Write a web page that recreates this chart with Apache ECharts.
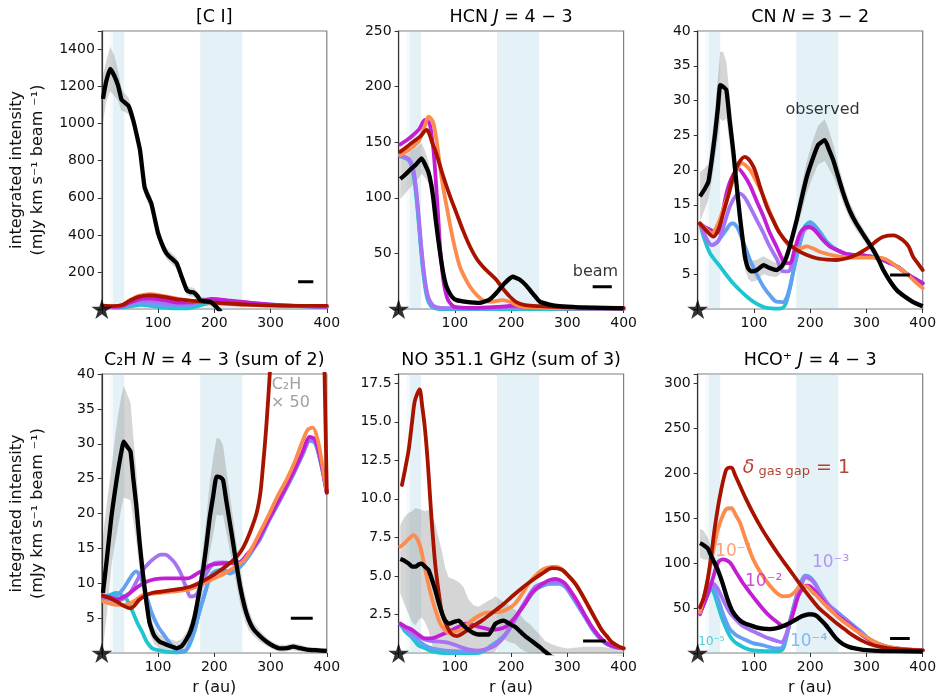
<!DOCTYPE html>
<html><head><meta charset="utf-8">
<script src="https://cdn.jsdelivr.net/npm/echarts@6/dist/echarts.min.js"></script>
<style>html,body{margin:0;padding:0;background:#fff}#c{width:945px;height:700px}</style>
</head><body><div id="c"></div>
<script>
// ---------------- DATA ----------------
const xTickLabels = [100, 200, 300, 400];
const gapBands = [[14, 20, 0.12], [20, 40, 0.33], [175, 250, 0.33]];

// [C I]
const ciYTicks = [200, 400, 600, 800, 1000, 1200, 1400];
const ciObs = [[2,1134],[8,1230],[15,1295],[22,1260],[29,1205],[35,1130],[40,1116],[48,1093],[56,1017],[62,940],[68,856],[76,658],[82,610],[88,570],[94,490],[100,409],[109,335],[115,300],[121,281],[133,247],[142,174],[151,102],[157,92],[163,90],[170,70],[175,48],[185,42],[193,39],[200,22],[206,3],[212,-15]];
const ciObsErr = [130,110,120,110,80,60,50,45,40,40,40,40,40,35,35,35,30,30,30,30,30,25,25,25,25,20,20,20,20,20,20];
const ciM0 = [[2,18],[20,15],[35,20],[50,45],[65,65],[85,73],[110,65],[140,50],[175,40],[220,30],[270,22],[320,18],[400,17]];
const ciM1 = [[2,16],[20,14],[35,20],[50,48],[65,70],[85,80],[110,70],[140,52],[175,38],[220,28],[270,21],[320,17],[400,15]];
const ciM2 = [[2,15],[20,12],[35,15],[50,35],[70,55],[85,58],[110,48],[140,35],[170,38],[195,55],[230,45],[270,32],[320,20],[400,13]];
const ciM3 = [[2,15],[20,11],[35,13],[50,30],[70,45],[90,42],[120,28],[150,25],[175,40],[195,50],[230,42],[270,30],[320,20],[400,13]];
const ciM4 = [[2,15],[20,10],[35,12],[50,25],[70,35],[90,25],[120,15],[150,15],[175,35],[195,48],[230,40],[270,30],[320,20],[400,13]];
const ciM5 = [[2,15],[20,8],[35,8],[50,14],[70,22],[90,15],[120,5],[150,3],[175,20],[195,35],[230,35],[270,28],[320,19],[400,12]];
const ciBeam = [[349,147],[376,147]];

// HCN J=4-3
const hcnYTicks = [50, 100, 150, 200, 250];
const hcnObs = [[3,117],[12,121],[22,126],[31,130],[41,135.5],[47,130],[53,123],[58,112],[62,98],[66,80],[70.6,62],[75,46],[79.5,32],[84,22],[88,17],[95,11],[103,8],[120,6.5],[144,5.5],[160,8],[173,14],[188,23],[203,29],[215,26.5],[227,21],[240,13],[251,6.6],[268,4],[286,2.5],[320,1.5],[360,1],[400,0.5]];
const hcnObsErr = [18,17,16,15,14,12,10,9,8,7,6,5,4,3,3,2,2,2,2,2,2,2,2,2,2,2,2,1.5,1.5,1,1,1];
const hcnM0 = [[3,141.5],[15,146],[26,150.5],[38,155],[50,161],[55,157],[59,150.5],[67,140],[79.5,119],[91,102],[103,86],[115,70],[127,56],[139,45],[150,38],[162,32],[174,26],[186,18],[198,11],[210,6],[225,3.5],[250,2.5],[300,1.5],[400,1]];
const hcnM1 = [[3,138.5],[15,142],[26,146],[37,152],[47,165],[53,173],[58,171],[62,167],[68,150],[73.6,128],[79,110],[85.5,92],[91,77],[97,62],[103,49],[109,38],[118,28],[127,20],[138,13],[150,8],[165,6.5],[185,8],[200,6],[215,2.5],[250,1],[400,0.5]];
const hcnM2 = [[3,148],[15,152],[26,156.5],[37,162],[47,170],[52,169],[56,165],[59,155],[62,143],[65,124],[68,101],[71,78],[73.6,56],[76.5,40],[79.5,26],[84,14],[88,8],[94,4],[100,2],[130,1],[180,2],[205,3],[230,1.5],[280,0.8],[400,0.5]];
const hcnM3 = [[3,138],[10,137],[18,135],[24,130],[28,120],[32,104],[36,82],[40,58],[44,38],[48,22],[52,12],[57,6],[63,2.5],[75,1],[150,0.5],[200,2],[240,1],[400,0.3]];
const hcnM4 = [[3,137],[10,136],[18,134],[24,128],[28,118],[32,101],[36,79],[40,55],[44,35],[48,20],[52,10],[57,4],[63,1.5],[75,0.5],[170,0.5],[200,2.5],[240,1],[400,0.2]];
const hcnM5 = [[3,139],[10,137],[18,134],[24,127],[28,116],[32,98],[36,76],[40,52],[44,32],[48,17],[52,8],[57,3],[63,1],[75,0],[400,0]];
const hcnBeam = [[345,20],[379,20]];

// CN N=3-2
const cnYTicks = [5, 10, 15, 20, 25, 30, 35, 40];
const cnObs = [[4,16.2],[12,17.2],[19,18.3],[25,21.5],[31,25.3],[36,29],[40,32.2],[45,32],[51,31.5],[57,27],[63,22.9],[69,18],[75,13.3],[80,10],[84,7.5],[90,5.8],[96,5.4],[105,5.6],[117,6.3],[128,5.9],[140,5.6],[150,6.2],[158,7.5],[167,10],[176,12.8],[185,16],[194,19],[204,21.5],[214,23.6],[226,24.3],[233,23],[241,21.4],[250,19],[259,16.6],[270,14.2],[282,12.3],[297,10.4],[312,8.5],[322,7],[330,5.6],[342,4],[354,2.7],[368,1.8],[383,1],[400,0.4]];
const cnObsErr = [3.5,3,2.5,3,3.5,4.5,4.8,5,4,3.5,3,2.5,2,2,1.8,1.5,1.5,1.5,1.3,1.2,1,1,1,1.2,1.5,2,2.3,2.6,2.8,3,2.8,2.3,1.8,1.5,1.2,1,0.8,0.8,0.7,0.6,0.5,0.5,0.4,0.4,0.3];
const cnM0 = [[4,12.3],[15,11.3],[28,10.4],[37,11.5],[45.5,13.8],[55,16.5],[63,19],[73,21],[84,21.9],[99,20.5],[110,17.8],[123,14.7],[135,12.6],[146,10.9],[160,9.5],[176,8.5],[193,7.8],[211.5,7.3],[230,7.1],[247,7.05],[265,7.3],[282,7.8],[295,8.4],[306,9],[318,9.8],[330,10.4],[348,10.6],[365,9.9],[375,9],[383,7.5],[392,6.5],[400,5.6]];
const cnM1 = [[4,12.3],[15,11.5],[25,10.9],[37,12.4],[47,14.8],[57,17.1],[67,19.5],[78,21],[93,20],[105,18.2],[117,16.2],[128,14],[140,11.8],[152,10.2],[164,9],[180,8.7],[194,9],[205,8.7],[218,8.2],[247,7.6],[270,7.4],[294,7.4],[324,7.4],[340,6.9],[354,6.1],[370,5.2],[383,4.2],[400,3]];
const cnM2 = [[4,12.3],[12,11.8],[22,11.4],[34,10.9],[42,13],[51,16.6],[60,18.8],[72,20.2],[82,19.3],[93,17.8],[105,15.5],[117,13.3],[128,11],[140,9],[150,7.2],[155,6.6],[164,6.6],[172,8.5],[182,10.9],[190,11.7],[197,11.8],[204,11.6],[211,11.1],[222,10],[235,9],[250,8.4],[265,7.9],[294,7.7],[320,7.3],[342,6.6],[357,6],[371,5.1],[385,4.4],[400,3.7]];
const cnM3 = [[4,12.3],[15,10.2],[25,9.2],[37,9.8],[47,12.2],[57,14.7],[67,16.2],[75,16.6],[84,16],[93,14.7],[105,12.8],[117,10.9],[128,9],[140,7.3],[152,5.4],[161,5.4],[170,7.5],[179,9.9],[190,11.4],[200,11.8],[211,11.1],[222,10],[235,9],[250,8.4],[265,7.9],[294,7.7],[320,7.3],[342,6.6],[357,6],[371,5.1],[385,4.4],[400,3.7]];
const cnM4 = [[4,12.3],[15,10.2],[25,9.2],[33,9.5],[40,10.2],[50,11.3],[58,12.2],[63,12.3],[70,11.8],[75,10.9],[84,9],[93,7.05],[105,5],[117,3.2],[128,2],[140,1.05],[152,1],[158,1.6],[164,3.2],[172,6.2],[182,9.5],[190,11.5],[200,12.3],[208,11.9],[218,10.9],[230,9.6],[247,8.5],[265,7.9],[294,7.7],[320,7.3],[342,6.6],[357,6],[371,5.1],[385,4.4],[400,3.7]];
const cnM5 = [[4,12.3],[12,10],[22,8],[30,7.1],[40,6.1],[50,5],[63,3.7],[75,2.7],[87,1.8],[100,1],[117,0.3],[130,0.1],[146,0.05],[155,0.5],[164,3],[172,6.2],[182,9.7],[190,11.8],[200,12.5],[208,12],[218,11],[230,9.6],[247,8.5],[265,7.9],[294,7.7],[320,7.3],[342,6.6],[357,6],[371,5.1],[385,4.4],[400,3.7]];
const cnBeam = [[342,4.9],[377,4.9]];

// C2H N=4-3
const c2hYTicks = [5, 10, 15, 20, 25, 30, 35, 40];
const c2hObs = [[2,8.6],[9,13.5],[17,19.5],[23,23],[29,26.2],[34,28.5],[39,30.3],[45,29.6],[51,28.9],[56,25],[61.5,21],[67,16],[73,11.4],[79,7.5],[85,4.3],[93,2.5],[103,1.6],[115,1.2],[125,0.9],[133,0.67],[142,1],[150,1.9],[158,3.2],[165,5.2],[172,8.2],[180,11.9],[186,15.5],[192,19.5],[198,22.5],[204,25.3],[210,25.2],[215.5,24.8],[221,22],[227,19],[233,16],[239,12.9],[246,9.5],[254,6.6],[261,4.8],[269,3.5],[280,2.5],[293,1.6],[305,1],[316,0.67],[328,0.7],[340,0.9],[352,0.7],[364,0.5],[380,0.4],[400,0.3]];
const c2hObsErr = [8,8,7,7.5,8,8,8,7.5,7,6,5,4,3,2,1.5,1.2,1,1,1,1,1,1,1.2,1.5,2,3,4,5,5.5,5.5,5.5,5,4.5,4,3.5,3,2.5,2,1.5,1,0.8,0.6,0.5,0.5,0.5,0.5,0.5,0.4,0.4,0.3];
const c2hM0 = [[2,8.2],[14,7.9],[26,7.4],[38,6.8],[50,6.4],[58,6.8],[66,7.6],[77,8.2],[89,8.6],[105,8.8],[124,9],[140,9.2],[157.5,9.5],[175,10.1],[193,10.9],[210,11.8],[228,12.9],[242,14],[252,15.2],[263,17.2],[275,20],[282,23],[287,27.2],[292,32],[296,36.7],[300,42],[310,60],[325,80],[345,95],[365,95],[380,85],[390,65],[396,40],[400,23]];
const c2hM1 = [[2,7.4],[14,7.1],[26,6.9],[38,6.9],[50,7.1],[62,7.7],[73,8.3],[87,8.5],[101,8.6],[125,8.8],[147,9],[165,9.4],[182,10],[200,10.7],[218,11.4],[236,12.3],[253,13.3],[268,15.2],[283,17.6],[298,20],[312,22.4],[327,24.6],[342,27.2],[355,30],[366,32],[375,32.3],[384,30.5],[392,27],[400,23]];
const c2hM2 = [[2,8.2],[14,8],[26,7.7],[38,8],[50,8.6],[64,9.5],[79,10.2],[95,10.6],[113,10.7],[135,10.7],[153,10.7],[162,11],[170,11.4],[182,12],[193,12.6],[210,12.8],[228,12.9],[245,13],[260,14.3],[270,15.2],[281,16.7],[296,19],[312,21.5],[327,23.8],[342,26.2],[356,28.6],[370,31],[378,30.7],[384,29.5],[392,26.5],[400,23]];
const c2hM3 = [[2,7.9],[14,7.7],[26,7.4],[38,7.8],[50,8.6],[62,10.3],[73,11.9],[85,13],[97,13.8],[105,14.1],[113,14.1],[122,13.6],[130,12.9],[140,11.5],[147,10],[152,9],[157,8.1],[165,8.2],[170,8.6],[178,10],[186,11.4],[193,12.3],[200,12.9],[214,13],[228,12.9],[245,13],[260,14],[270,15],[281,16.5],[296,19],[312,21.3],[327,23.6],[342,26],[356,28.4],[370,30.6],[378,30.4],[384,29.2],[392,26.5],[400,23]];
const c2hM4 = [[2,8],[14,8.1],[26,8.2],[38,9.2],[50,10.7],[56,11.4],[61,11.7],[66,11.3],[73,10],[80,8],[89,5.7],[100,3.8],[113,2.3],[125,1],[136,0.3],[147,0.3],[155,1.2],[165,3.3],[172,5.5],[182,8.2],[193,10.9],[204,11.7],[216,11.8],[228,11.4],[240,12],[252,12.9],[262,14],[270,15],[281,16.3],[296,18.8],[312,21.2],[327,23.5],[342,25.9],[356,28.3],[370,30.4],[378,30.2],[384,29],[392,26.3],[400,23]];
const c2hM5 = [[2,8],[14,8.3],[26,8.6],[35,8.3],[44,7.7],[50,6.8],[56,5.7],[64,4.2],[73,2.8],[80,1.6],[89,0.7],[100,0.4],[113,0.2],[130,0.1],[147,0.2],[155,1],[165,3.2],[172,5.5],[182,8.2],[193,11],[204,11.8],[216,11.9],[228,11.5],[240,12],[252,12.9],[262,14],[270,15],[281,16.3],[296,18.8],[312,21.2],[327,23.5],[342,25.9],[356,28.3],[370,30.4],[378,30.2],[384,29],[392,26.3],[400,23]];
const c2hBeam = [[336,5],[375,5]];

// NO 351.1 GHz
const noYTicks = [2.5, 5, 7.5, 10, 12.5, 15, 17.5];
const noObs = [[3,6.1],[10,6],[18,5.8],[24,5.6],[30,5.6],[36,5.75],[41,5.8],[47,5.6],[53,5.4],[59,4.8],[65,4.1],[71,3.3],[77,2.6],[83,2.1],[89,1.9],[97,2],[107,2.1],[115,1.8],[124,1.5],[133,1.3],[142,1.2],[151,1.2],[160,1.2],[166,1.5],[172,1.9],[180,2.05],[187,2.1],[197,1.9],[207,1.7],[216,1.4],[225,1.1],[234,0.85],[243,0.6],[252,0.35],[260,0.1],[270,-0.2],[285,-0.4],[300,-0.5],[330,-0.5],[360,-0.4],[400,-0.3]];
const noObsErr = [2.2,2.8,3.3,3.6,3.8,3.6,3.5,3.6,3.9,4.2,4.3,4.2,4,3.4,3,2.8,2.5,2.5,2,1.8,1.8,2,2.2,2,1.8,1.4,1.2,1.2,1.1,1.1,1,1,0.9,0.8,0.7,0.8,0.8,0.8,0.9,0.8,0.5];
const noM0 = [[6,10.9],[12,12],[18,13.2],[24,15],[28.5,16.3],[33,16.8],[37.3,17.1],[42,16],[47,14.5],[52,12.3],[56,10.1],[60,8],[65,5.8],[71,4],[77,2.6],[85,1.8],[95,1.2],[104,1.1],[115,1.3],[130,1.7],[148,2.1],[166,2.6],[184,3.1],[201,3.65],[219,4.2],[237,4.7],[255,5.15],[273,5.5],[290,5.4],[302,5],[314,4.5],[326,3.8],[338,3],[350,2.2],[361,1.5],[370,1.1],[379,0.7],[390,0.45],[400,0.3]];
const noM1 = [[3,6.9],[10,7.1],[18,7.4],[26.7,7.65],[33,7.4],[38.5,6.9],[44,6],[50,4.95],[56,4],[62,3.2],[68,2.5],[74,1.9],[82,1.5],[89,1.3],[98,1.35],[107,1.45],[118,1.75],[130,2.1],[142,2.4],[154,2.6],[170,2.65],[184,2.7],[196,2.9],[207,3.2],[219,3.8],[231,4.5],[243,5],[255,5.4],[267,5.55],[279,5.6],[290,5.45],[302,5],[314,4.5],[326,3.8],[338,3],[350,2.2],[361,1.5],[370,1.1],[379,0.7],[390,0.45],[400,0.3]];
const noM2 = [[3,1.9],[12,1.7],[24,1.5],[35,1.2],[47,0.95],[59,0.95],[71,1.1],[83,1.3],[95,1.5],[107,1.7],[118.5,1.9],[130,1.85],[142,1.7],[154,1.6],[166,1.5],[178,1.55],[190,1.7],[202,2.1],[213,2.6],[225,3.2],[237,3.9],[249,4.3],[261,4.6],[270,4.75],[279,4.8],[288,4.7],[296,4.5],[308,3.9],[320,3.2],[332,2.4],[343.6,1.7],[355,1.15],[367,0.7],[380,0.45],[391,0.35],[400,0.3]];
const noM3 = [[3,1.9],[12,1.6],[24,1.3],[38,1],[53,0.8],[68,0.75],[83,0.7],[98,0.55],[113,0.35],[128,0.2],[142,0.15],[157,0.25],[172,0.5],[184,0.9],[196,1.5],[208,2.2],[219.6,3],[231,3.7],[243,4.3],[255,4.5],[267,4.6],[279,4.65],[288,4.6],[296,4.4],[308,3.8],[320,3.1],[332,2.35],[343.6,1.65],[355,1.1],[367,0.7],[380,0.45],[391,0.35],[400,0.3]];
const noM4 = [[3,1.9],[12,1.5],[24,1.1],[35,0.8],[47,0.5],[60,0.3],[83,0.15],[110,0.1],[140,0.12],[155,0.25],[166,0.5],[178,0.8],[190,1.2],[202,1.9],[213,2.6],[228,3.4],[243,4.1],[258,4.4],[273,4.5],[285,4.5],[296,4.3],[308,3.7],[320,3],[332,2.3],[343.6,1.6],[355,1.05],[367,0.65],[380,0.42],[391,0.33],[400,0.3]];
const noM5 = [[3,1.9],[12,1.4],[24,1],[35,0.5],[47,0.3],[60,0.1],[80,0],[140,0],[155,0.2],[166,0.5],[178,0.8],[190,1.2],[202,1.9],[213,2.6],[228,3.4],[243,4.1],[258,4.4],[273,4.5],[285,4.5],[296,4.3],[308,3.7],[320,3],[332,2.3],[343.6,1.6],[355,1.05],[367,0.65],[380,0.42],[391,0.33],[400,0.3]];
const noBeam = [[328,0.78],[368,0.78]];

// HCO+ J=4-3
const hcoYTicks = [50, 100, 150, 200, 250, 300];
const hcoObs = [[4,122],[10,120],[18,116],[24,108],[30,100],[36,92],[44,78],[51,63.6],[57,53],[63,45],[72,38],[80,34],[92,31],[104,28.5],[116,27],[128,26.6],[140,27.5],[152,30],[164,33.5],[176,37.7],[186,41],[197,43],[204,42.8],[211,41.4],[220,36],[229,30],[238,22.5],[247,15.5],[258,10],[270,6.5],[282,4.8],[294,3.5],[320,2.4],[350,2],[400,1.5]];
const hcoObsErr = [16,16,12,8,5,4,3,3,3,3,2.5,2.5,2.5,2.5,2.5,2.5,2.5,2.5,2.5,2.5,3,3,3,3,3,3,2.5,2,1.5,1,1,1,1,1,1];
const hcoM0 = [[4,50.7],[11,62],[18,82],[24,108],[30,137.6],[36,162],[42,182],[47,196],[51,204],[56,206],[60,206],[67,197],[75,186],[86,171],[98,156],[113,139],[128,124],[143,110],[158,97],[172,85],[187,72],[202,60],[217,49],[232,41],[247,33],[262,26],[276,19.5],[291,14],[306,10],[323,7],[341,5],[370,3.8],[400,3]];
const hcoM1 = [[4,45],[12,65],[21,93],[28,115],[36,137.6],[44,152],[51,160],[60,161],[67,154],[75,145],[86,125],[98,105],[113,88],[128,75],[140,67],[152,63],[164,63.6],[173,68],[182,74],[193.6,74],[202,69],[211.5,63.6],[226,54],[241,45],[255,37],[270,30],[288,22],[306,15.5],[323,10],[341,6.5],[370,4.2],[400,3]];
const hcoM2 = [[4,43],[12,56],[21,71],[28,85],[36,100.6],[45,104],[57,100.6],[68,90],[80,78],[92,68],[104,58],[116,49],[128,41],[140,35],[152,30],[158,30.5],[164,34],[171,47],[179,63.6],[186,71],[193.6,74.7],[200,74],[205,71],[220,60],[235,49],[250,41],[264.5,34],[279,27],[294,19],[312,12.5],[330,8],[350,5.5],[370,4],[400,3]];
const hcoM3 = [[4,45],[12,58],[18,70],[24,78],[30,76],[36,71],[46,58],[57,45],[68,37],[80,30],[92,26],[104,22.5],[116,19],[128,16],[140,13.5],[149,12],[155,17],[164,34],[172,52],[179,67],[186,78],[191,84],[200,82],[208,77],[217,67],[232,54],[247,45],[262,37],[276,30],[291,22],[306,14.5],[323,9.5],[341,6],[370,4],[400,3]];
const hcoM4 = [[4,45],[12,57],[18,67],[24,74.7],[30,70],[36,60],[46,42],[57,26.6],[68,20],[80,16],[98,11],[116,8.6],[128,6.5],[140,5],[150,6],[158,19],[166,40],[176,63.6],[183,77],[191,86],[200,84],[208,78],[217,68],[232,54],[247,46],[262,38],[276,31],[291,23],[306,15],[323,9.7],[341,6],[370,4],[400,3]];
const hcoM5 = [[4,45],[12,56],[18,65],[24,72],[30,65],[36,53],[46,34],[57,19],[66,12],[75,8.6],[84,5.5],[93,3.5],[110,2.3],[130,2],[145,2.2],[152,5],[158,18],[166,40],[176,63.6],[183,77],[191,86],[200,84],[208,78],[217,68],[232,54],[247,46],[262,38],[276,31],[291,23],[306,15],[323,9.7],[341,6],[370,4],[400,3]];
const hcoBeam = [[342,16],[377,16]];

// ---------------- CHART ----------------
const FONT = 'DejaVu Sans';
const MODEL_COLORS = ['#1ec5cf', '#62a0f2', '#a674f3', '#c31fd2', '#fd8b4c', '#a81300']; // 1e-5 ... 1
const GRID_W = 225;

const panels = [
  {left:101.8, top:31, h:278, yMax:1500, step:200, ticks:ciYTicks, dec:0, obs:ciObs, err:ciObsErr, models:[ciM5,ciM4,ciM3,ciM2,ciM1,ciM0], beam:ciBeam,
   title:'{a|[C I]}'},
  {left:398.6, top:31, h:278, yMax:250, step:50, ticks:hcnYTicks, dec:0, obs:hcnObs, err:hcnObsErr, models:[hcnM5,hcnM4,hcnM3,hcnM2,hcnM1,hcnM0], beam:hcnBeam,
   title:'{a|HCN }{i|J}{a| = 4 − 3}'},
  {left:697.7, top:31, h:278, yMax:40, step:5, ticks:cnYTicks, dec:0, obs:cnObs, err:cnObsErr, models:[cnM5,cnM4,cnM3,cnM2,cnM1,cnM0], beam:cnBeam,
   title:'{a|CN }{i|N}{a| = 3 − 2}'},
  {left:101.8, top:374, h:279, yMax:40, step:5, ticks:c2hYTicks, dec:0, obs:c2hObs, err:c2hObsErr, models:[c2hM5,c2hM4,c2hM3,c2hM2,c2hM1,c2hM0], beam:c2hBeam,
   title:'{a|C₂H }{i|N}{a| = 4 − 3 (sum of 2)}'},
  {left:398.6, top:374, h:279, yMax:18.1, step:2.5, ticks:noYTicks, dec:1, obs:noObs, err:noObsErr, models:[noM5,noM4,noM3,noM2,noM1,noM0], beam:noBeam,
   title:'{a|NO 351.1 GHz (sum of 3)}'},
  {left:697.7, top:374, h:279, yMax:310, step:50, ticks:hcoYTicks, dec:0, obs:hcoObs, err:hcoObsErr, models:[hcoM5,hcoM4,hcoM3,hcoM2,hcoM1,hcoM0], beam:hcoBeam,
   title:'{a|HCO⁺ }{i|J}{a| = 4 − 3}'}
];

function starPath() {
  const pts = [];
  for (let i = 0; i < 10; i++) {
    const a = -Math.PI / 2 + i * Math.PI / 5;
    const rr = i % 2 ? 0.38 : 1;
    pts.push((50 + 50 * rr * Math.cos(a)).toFixed(2) + ',' + (50 + 50 * rr * Math.sin(a)).toFixed(2));
  }
  return 'path://M' + pts.join('L') + 'Z';
}
const STAR = starPath();

const grids = [], xAxes = [], yAxes = [], series = [], graphics = [];
const titleRich = {
  a: {fontFamily: FONT, fontSize: 17.5, color: '#000'},
  i: {fontFamily: FONT, fontSize: 17.5, color: '#000', fontStyle: 'italic'}
};

panels.forEach((p, i) => {
  grids.push({left: p.left, top: p.top, width: GRID_W, height: p.h, show: true, borderColor: '#808080', borderWidth: 1.2, backgroundColor: 'transparent'});
  xAxes.push({
    type: 'value', gridIndex: i, min: 0, max: 400, interval: 100,
    axisLine: {show: false},
    axisTick: {show: true, length: 4, lineStyle: {color: '#333', width: 1}},
    axisLabel: {fontFamily: FONT, fontSize: 14, color: '#111', margin: 7,
      formatter: v => xTickLabels.indexOf(v) >= 0 ? String(v) : ''},
    splitLine: {show: false}
  });
  yAxes.push({
    type: 'value', gridIndex: i, min: 0, max: p.yMax, interval: p.step,
    axisLine: {show: true, lineStyle: {color: '#333', width: 1.2}},
    axisTick: {show: true, length: 4, lineStyle: {color: '#333', width: 1}},
    axisLabel: {fontFamily: FONT, fontSize: 14, color: '#111', margin: 7,
      formatter: v => p.ticks.some(t => Math.abs(t - v) < 1e-6) ? v.toFixed(p.dec) : ''},
    splitLine: {show: false}
  });
  // shaded gap bands
  series.push({
    type: 'custom', xAxisIndex: i, yAxisIndex: i, z: 1, silent: true,
    data: gapBands,
    renderItem: (params, api) => {
      const cs = params.coordSys;
      const x0 = api.coord([api.value(0), 0])[0];
      const x1 = api.coord([api.value(1), 0])[0];
      return {type: 'rect', shape: {x: x0, y: cs.y, width: x1 - x0, height: cs.height},
        style: {fill: 'rgba(173,216,230,' + api.value(2) + ')'}};
    }
  });
  // observational uncertainty band
  series.push({
    type: 'custom', xAxisIndex: i, yAxisIndex: i, z: 2, silent: true,
    data: [[p.obs[0][0], p.obs[0][1]]],
    renderItem: (params, api) => {
      const up = [], lo = [];
      p.obs.forEach((pt, k) => {
        const e = p.err[Math.min(k, p.err.length - 1)];
        const hi = Math.min(Math.max(pt[1] + e, 0), p.yMax);
        const lw = Math.min(Math.max(pt[1] - e, 0), p.yMax);
        up.push(api.coord([pt[0], hi]));
        lo.push(api.coord([pt[0], lw]));
      });
      return {type: 'polygon', shape: {points: up.concat(lo.reverse())},
        style: {fill: 'rgba(128,128,128,0.33)'}};
    }
  });
  // models
  p.models.forEach((m, k) => {
    series.push({
      type: 'line', xAxisIndex: i, yAxisIndex: i, z: 3 + k, data: m,
      showSymbol: false, smooth: 0.3, clip: true,
      lineStyle: {color: MODEL_COLORS[k], width: 3.8, join: 'round', cap: 'round'}, silent: true
    });
  });
  // observed
  series.push({
    type: 'line', xAxisIndex: i, yAxisIndex: i, z: 12, data: p.obs,
    showSymbol: false, smooth: 0.15, clip: true,
    lineStyle: {color: '#000', width: 4.3, join: 'round'}, silent: true
  });
  // beam bar
  series.push({
    type: 'line', xAxisIndex: i, yAxisIndex: i, z: 12, data: p.beam,
    showSymbol: false, lineStyle: {color: '#000', width: 3}, silent: true
  });
  // star at origin
  series.push({
    type: 'scatter', xAxisIndex: i, yAxisIndex: i, z: 20, clip: false,
    data: [[0, 0]], symbol: STAR, symbolSize: [21, 20],
    itemStyle: {color: '#000'}, silent: true
  });
  // titles
  graphics.push({
    type: 'text', x: p.left + GRID_W / 2, y: p.top - 14, z: 50,
    style: {text: p.title, rich: titleRich, align: 'center', verticalAlign: 'middle'}
  });
});

function textSeries(gi, items) {
  return {
    type: 'scatter', xAxisIndex: gi, yAxisIndex: gi, z: 30, clip: false, symbolSize: 0, silent: true,
    data: items.map(it => ({value: it.at, label: Object.assign({show: true, position: 'inside', fontFamily: FONT}, it.label)}))
  };
}

// annotations
series.push(textSeries(2, [{at: [222, 28.6], label: {formatter: 'observed', fontSize: 16, color: '#000'}}]));
series.push(textSeries(1, [{at: [350, 33.3], label: {formatter: 'beam', fontSize: 16, color: '#000'}}]));
series.push(textSeries(3, [
  {at: [302, 38.4], label: {formatter: 'C₂H', fontSize: 16, color: '#888', align: 'left'}},
  {at: [301, 35.8], label: {formatter: '× 50', fontSize: 16, color: '#888', align: 'left'}}
]));
series.push(textSeries(5, [
  {at: [80, 206], label: {formatter: '{d|δ}{s| gas gap}{n| = 1}', align: 'left', color: MODEL_COLORS[5],
    rich: {d: {fontFamily: FONT, fontSize: 19, fontStyle: 'italic', color: MODEL_COLORS[5]},
           s: {fontFamily: FONT, fontSize: 13, color: MODEL_COLORS[5], padding: [9, 0, 0, 0]},
           n: {fontFamily: FONT, fontSize: 19, color: MODEL_COLORS[5]}}}},
  {at: [31, 113], label: {formatter: '10⁻¹', fontSize: 17, color: '#fd8b4c', align: 'left'}},
  {at: [84, 79], label: {formatter: '10⁻²', fontSize: 17, color: '#c31fd2', align: 'left'}},
  {at: [203, 101], label: {formatter: '10⁻³', fontSize: 17, color: '#a97cf2', align: 'left'}},
  {at: [164, 13], label: {formatter: '10⁻⁴', fontSize: 17, color: '#6aa6f2', align: 'left'}},
  {at: [1, 12], label: {formatter: '10⁻⁵', fontSize: 12, color: '#22c3cf', align: 'left'}}
]));

// axis names
[[27.5, 170], [27.5, 513.5]].forEach(pos => {
  graphics.push({
    type: 'text', x: pos[0], y: pos[1], rotation: Math.PI / 2, z: 50,
    style: {text: 'integrated intensity\n(mJy km s⁻¹ beam ⁻¹)', fontFamily: FONT, fontSize: 16, lineHeight: 21,
      fill: '#111', align: 'center', verticalAlign: 'middle'}
  });
});
[214.3, 511, 810].forEach(cx => {
  graphics.push({
    type: 'text', x: cx, y: 688, z: 50,
    style: {text: 'r (au)', fontFamily: FONT, fontSize: 16, fill: '#111', align: 'center', verticalAlign: 'middle'}
  });
});

const chart = echarts.init(document.getElementById('c'), null, {renderer: 'canvas'});
chart.setOption({
  animation: false,
  backgroundColor: '#fff',
  textStyle: {fontFamily: FONT},
  grid: grids, xAxis: xAxes, yAxis: yAxes, series: series, graphic: graphics
});
</script>
</body></html>
